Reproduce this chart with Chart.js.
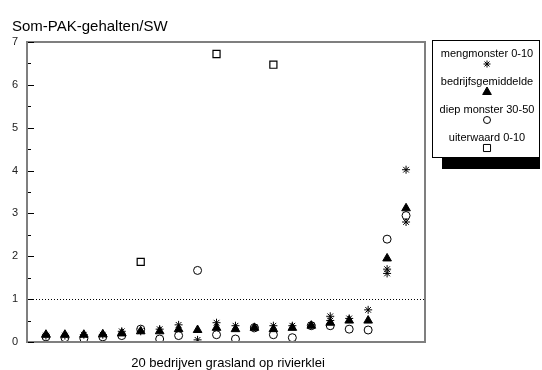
<!DOCTYPE html>
<html>
<head>
<meta charset="utf-8">
<script src="https://cdn.jsdelivr.net/npm/chart.js@4.4.0/dist/chart.umd.min.js"></script>
<style>
    html, body { margin: 0; padding: 0; background: #fff; }
    #wrap { width: 542px; height: 370px; position: relative; }
</style>
</head>
<body>
<div id="wrap"><canvas id="pakChart" width="542" height="370"></canvas></div>
<script>
(function() {
    'use strict';

    // ===================================
    // Data
    // ===================================
    const companies = [1, 2, 3, 4, 5, 6, 7, 8, 9, 10, 11, 12, 13, 14, 15, 16, 17, 18, 19, 20];
    const mengmonster = [0.15, 0.15, 0.17, 0.17, 0.25, 0.25, 0.3, 0.4, 0.05, 0.45, 0.38, 0.35, 0.38, 0.38, 0.4, 0.6, 0.55, 0.75, 1.7, 4.02];
    const mengmonsterExtra = [null, null, null, null, null, null, null, null, null, null, null, null, null, null, null, 0.5, null, null, 1.6, 2.8];
    const bedrijfsgemiddelde = [0.17, 0.17, 0.17, 0.18, 0.2, 0.25, 0.25, 0.3, 0.28, 0.33, 0.3, 0.33, 0.3, 0.33, 0.38, 0.45, 0.5, 0.5, 1.95, 3.12];
    const diepMonster = [0.12, 0.1, 0.08, 0.12, 0.15, 0.3, 0.07, 0.15, 1.67, 0.17, 0.07, 0.33, 0.17, 0.1, 0.38, 0.38, 0.3, 0.28, 2.4, 2.95];
    const uiterwaard = [null, null, null, null, null, 1.87, null, null, null, 6.72, null, null, 6.47, null, null, null, null, null, null, null];
    const yTicks = [0, 1, 2, 3, 4, 5, 6, 7];
    const legendLabels = ['mengmonster 0-10', 'bedrijfsgemiddelde', 'diep monster 30-50', 'uiterwaard 0-10'];
    const yTitle = 'Som-PAK-gehalten/SW';
    const xTitle = '20 bedrijven grasland op rivierklei';

    const FONT = '"Liberation Sans", Arial, sans-serif';
    const AXIS_GREY = '#7f7f7f';

    function toPoints(values) {
        return companies.map((c, i) => ({ x: c, y: values[i] }))
            .filter(p => p.y !== null);
    }

    // ===================================
    // Custom drawing: frame, ticks, dotted line, titles, legend
    // ===================================
    const decorPlugin = {
        id: 'decor',
        beforeDatasetsDraw(chart) {
            const ctx = chart.ctx;
            const area = chart.chartArea;
            const yScale = chart.scales.y;

            // dotted reference line at 1
            const y1 = Math.round(yScale.getPixelForValue(1)) + 0.5;
            ctx.save();
            ctx.strokeStyle = '#000';
            ctx.lineWidth = 1;
            ctx.setLineDash([1, 2]);
            ctx.beginPath();
            ctx.moveTo(area.left, y1);
            ctx.lineTo(area.right, y1);
            ctx.stroke();
            ctx.restore();
        },
        afterDatasetsDraw(chart) {
            const ctx = chart.ctx;
            const area = chart.chartArea;
            const yScale = chart.scales.y;

            ctx.save();
            // frame
            ctx.strokeStyle = AXIS_GREY;
            ctx.lineWidth = 2;
            ctx.strokeRect(area.left, area.top, area.right - area.left, area.bottom - area.top);

            // inward ticks, major + minor
            ctx.strokeStyle = '#000';
            ctx.lineWidth = 1;
            for (let v = 0; v <= 7; v += 0.5) {
                const py = Math.round(yScale.getPixelForValue(v)) + 0.5;
                const len = (v % 1 === 0) ? 6 : 3;
                ctx.beginPath();
                ctx.moveTo(area.left + 1, py);
                ctx.lineTo(area.left + 1 + len, py);
                ctx.stroke();
            }

            // titles
            ctx.fillStyle = '#000';
            ctx.font = '15px ' + FONT;
            ctx.textAlign = 'left';
            ctx.textBaseline = 'alphabetic';
            ctx.fillText(yTitle, 12, 31);
            ctx.font = '13px ' + FONT;
            ctx.textAlign = 'center';
            ctx.fillText(xTitle, (area.left + area.right) / 2 + 2, 367);

            // legend box with shadow
            const lx = 432, ly = 40, lw = 108, lh = 117;
            ctx.fillStyle = '#000';
            ctx.fillRect(lx + 10, ly + lh, lw - 10, 12);
            ctx.fillStyle = '#fff';
            ctx.fillRect(lx, ly, lw, lh);
            ctx.strokeStyle = '#000';
            ctx.lineWidth = 1;
            ctx.strokeRect(lx + 0.5, ly + 0.5, lw - 1, lh);

            ctx.font = '11px ' + FONT;
            ctx.textAlign = 'center';
            const cx = lx + lw / 2 + 1;
            const styles = ['star', 'triangle', 'circle', 'rect'];
            legendLabels.forEach((label, i) => {
                const ty = ly + 17 + i * 28;
                ctx.fillStyle = '#000';
                ctx.fillText(label, cx, ty);
                const opts = {
                    pointStyle: styles[i],
                    radius: styles[i] === 'triangle' ? 5 : (styles[i] === 'rect' ? 5 : 3.5),
                    rotation: 0,
                    borderWidth: 1
                };
                ctx.strokeStyle = '#000';
                ctx.fillStyle = styles[i] === 'triangle' ? '#000' : '#fff';
                ctx.lineWidth = 1;
                Chart.helpers.drawPoint(ctx, opts, cx, ty + 7);
            });
            ctx.restore();
        }
    };

    // ===================================
    // Chart
    // ===================================
    const canvas = document.getElementById('pakChart');
    new Chart(canvas, {
        type: 'scatter',
        data: {
            datasets: [
                {
                    label: legendLabels[0],
                    data: toPoints(mengmonster),
                    pointStyle: 'star',
                    pointRadius: 4,
                    borderColor: '#000',
                    backgroundColor: '#000',
                    borderWidth: 1,
                    order: 1
                },
                {
                    label: legendLabels[0] + ' (extra)',
                    data: toPoints(mengmonsterExtra),
                    pointStyle: 'star',
                    pointRadius: 4,
                    borderColor: '#000',
                    backgroundColor: '#000',
                    borderWidth: 1,
                    order: 1
                },
                {
                    label: legendLabels[1],
                    data: toPoints(bedrijfsgemiddelde),
                    pointStyle: 'triangle',
                    pointRadius: 5,
                    borderColor: '#000',
                    backgroundColor: '#000',
                    borderWidth: 1,
                    order: 2
                },
                {
                    label: legendLabels[2],
                    data: toPoints(diepMonster),
                    pointStyle: 'circle',
                    pointRadius: 4,
                    borderColor: '#000',
                    backgroundColor: '#fff',
                    borderWidth: 1,
                    order: 3
                },
                {
                    label: legendLabels[3],
                    data: toPoints(uiterwaard),
                    pointStyle: 'rect',
                    pointRadius: 5,
                    borderColor: '#000',
                    backgroundColor: '#fff',
                    borderWidth: 1.2,
                    order: 3
                }
            ]
        },
        options: {
            responsive: false,
            animation: false,
            devicePixelRatio: 1,
            layout: {
                padding: { left: 0, top: 42, right: 117, bottom: 28 }
            },
            plugins: {
                legend: { display: false },
                tooltip: { enabled: false }
            },
            scales: {
                x: {
                    type: 'linear',
                    min: 0,
                    max: 21,
                    display: false
                },
                y: {
                    type: 'linear',
                    min: 0,
                    max: 7,
                    afterFit: function(scale) { scale.width = 27; },
                    afterBuildTicks: function(scale) {
                        scale.ticks = yTicks.map(v => ({ value: v }));
                    },
                    border: { display: false },
                    grid: { display: false, drawTicks: false },
                    ticks: {
                        color: '#222',
                        font: { family: FONT, size: 11 },
                        padding: 9
                    }
                }
            }
        },
        plugins: [decorPlugin]
    });

    console.log('PAK chart initialized');
})();
</script>
</body>
</html>
